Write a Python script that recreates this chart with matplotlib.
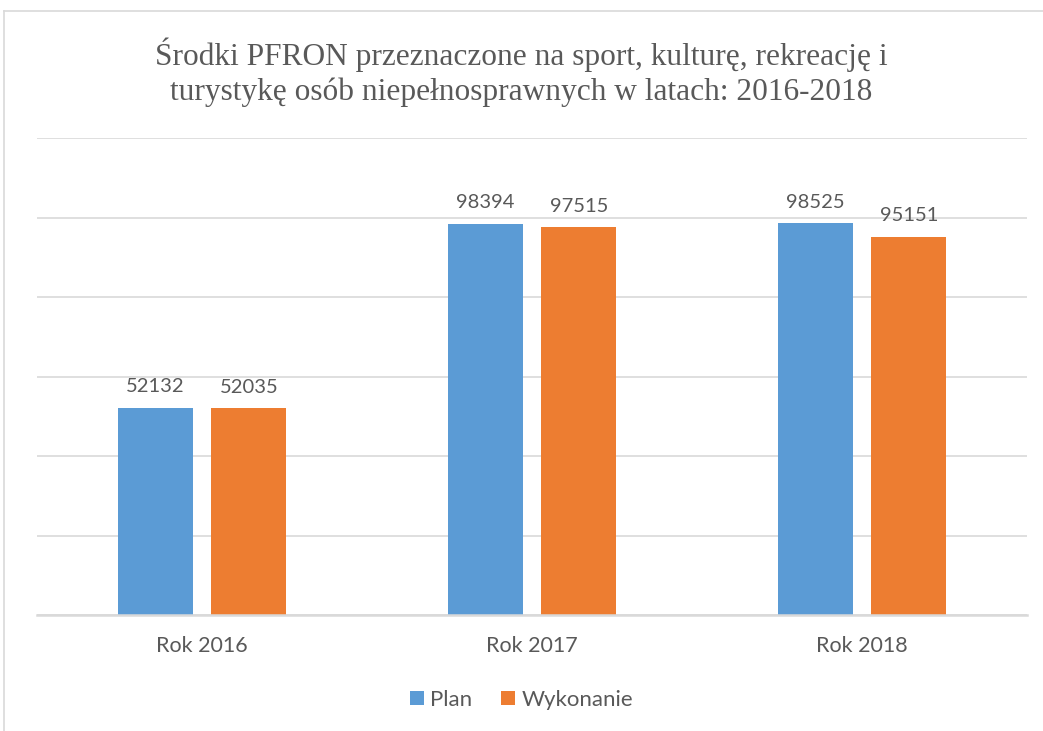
import numpy as np
import matplotlib.pyplot as plt
import matplotlib.ticker as mticker
from matplotlib.patches import Patch
from matplotlib.lines import Line2D

categories = ["Rok 2016", "Rok 2017", "Rok 2018"]
plan = [52132, 98394, 98525]
wykonanie = [52035, 97515, 95151]
series_labels = ["Plan", "Wykonanie"]
title = ("Środki PFRON przeznaczone na sport, kulturę, rekreację i\n"
         "turystykę osób niepełnosprawnych w latach: 2016-2018")

BLUE = "#5b9bd5"
ORANGE = "#ed7d31"
GRID = "#d9d9d9"
TEXT = "#595959"

fig = plt.figure(figsize=(10.43, 7.31), dpi=100)
ax = fig.add_axes([37 / 1043, 116 / 731, 990 / 1043, 477 / 731])

x = np.arange(len(categories))
width = 0.227
off = 0.142
b1 = ax.bar(x - off, plan, width, color=BLUE, label=series_labels[0])
b2 = ax.bar(x + off, wykonanie, width, color=ORANGE, label=series_labels[1])

for bars in (b1, b2):
    for bar in bars:
        h = bar.get_height()
        ax.annotate(f"{h:.0f}", (bar.get_x() + bar.get_width() / 2, h),
                    xytext=(0, 9), textcoords="offset points",
                    ha="center", va="bottom", fontsize=14.5,
                    color=TEXT, family="Lato")

ax.set_xlim(-0.5, 2.5)
ax.set_ylim(0, 120000)
ax.yaxis.set_major_locator(mticker.MultipleLocator(20000))
ax.set_yticklabels([])
ax.tick_params(axis="y", length=0)
ax.tick_params(axis="x", length=0, pad=15, labelsize=15.5, labelcolor=TEXT)
ax.set_xticks(x)
ax.set_xticklabels(categories, family="Lato")
ax.grid(True, axis="y", color=GRID, linewidth=1.2)
ax.set_axisbelow(True)
for s in ["left", "right", "top"]:
    ax.spines[s].set_visible(False)
ax.spines["bottom"].set_color(GRID)
ax.spines["bottom"].set_linewidth(1.8)

fig.text(0.5, 0.901, title, ha="center", va="center", fontsize=22.6,
         color=TEXT, family="Liberation Serif", linespacing=1.27)

handles = [Patch(facecolor=BLUE, label=series_labels[0]),
           Patch(facecolor=ORANGE, label=series_labels[1])]
fig.legend(handles=handles, loc="center", bbox_to_anchor=(0.5, 0.043),
           ncol=2, frameon=False, handlelength=0.6,
           handleheight=0.6, handletextpad=0.3, columnspacing=1.3,
           labelcolor=TEXT, prop={"family": "Lato", "size": 16})

# chart border (top and left edges visible)
fig.add_artist(Line2D([4 / 1043, 1], [1 - 11 / 731, 1 - 11 / 731],
                      transform=fig.transFigure, color=GRID, linewidth=1.2))
fig.add_artist(Line2D([4 / 1043, 4 / 1043], [0, 1 - 11 / 731],
                      transform=fig.transFigure, color=GRID, linewidth=1.2))

fig.savefig("out.png", dpi=100)
